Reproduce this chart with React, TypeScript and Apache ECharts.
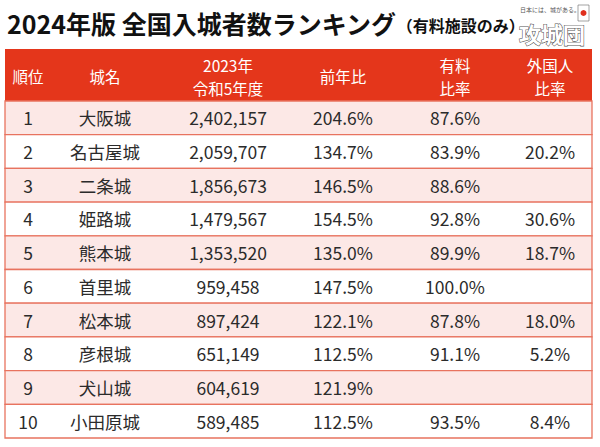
import React, { useEffect, useRef } from "react";
import * as echarts from "echarts";

const ranks = [1, 2, 3, 4, 5, 6, 7, 8, 9, 10];
const castles = ["大阪城", "名古屋城", "二条城", "姫路城", "熊本城", "首里城", "松本城", "彦根城", "犬山城", "小田原城"];
const visitors = [2402157, 2059707, 1856673, 1479567, 1353520, 959458, 897424, 651149, 604619, 589485];
const yoy = [204.6, 134.7, 146.5, 154.5, 135.0, 147.5, 122.1, 112.5, 121.9, 112.5];
const paidRatio: (number | null)[] = [87.6, 83.9, 88.6, 92.8, 89.9, 100.0, 87.8, 91.1, null, 93.5];
const foreignRatio: (number | null)[] = [null, 20.2, null, 30.6, 18.7, null, 18.0, 5.2, null, 8.4];
const headers: string[][] = [["順位"], ["城名"], ["2023年", "令和5年度"], ["前年比"], ["有料", "比率"], ["外国人", "比率"]];

const FONT = "'Noto Sans CJK JP', 'Noto Sans', sans-serif";
const HEADER_RED = "#e4361b";
const PINK = "#fce8e6";
const LINE = "#e8735f";
const TEXT = "#2b2b2b";
const COLS = [28, 105, 228, 343, 455, 550];
const TABLE_L = 5;
const TABLE_R = 592;

const fmtPct = (v: number | null) => (v == null ? "" : v.toFixed(1) + "%");
const fmtNum = (v: number) => v.toLocaleString("en-US");

export default function App() {
  const ref = useRef<HTMLDivElement>(null);
  useEffect(() => {
    if (!ref.current) return;
    const chart = echarts.init(ref.current, null, { renderer: "svg" });
    const headerTexts: any[] = [];
    headers.forEach((lines, i) => {
      const ys = lines.length === 1 ? [76] : [64.5, 87.5];
      lines.forEach((t, j) => {
        headerTexts.push({
          type: "text",
          x: COLS[i],
          y: ys[j],
          style: {
            text: t,
            fill: "#ffffff",
            font: `15.5px ${FONT}`,
            align: "center",
            verticalAlign: "middle",
          },
        });
      });
    });
    chart.setOption({
      animation: false,
      backgroundColor: "#ffffff",
      grid: { left: 0, right: 0, top: 101, bottom: 9 },
      xAxis: { type: "value", min: 0, max: 600, show: false },
      yAxis: { type: "category", data: castles, inverse: true, show: false },
      graphic: [
        {
          type: "text",
          x: 7,
          y: 23,
          style: {
            text: "{a|2024年版 全国入城者数ランキング}{b|（有料施設のみ）}",
            verticalAlign: "middle",
            rich: {
              a: { font: `bold 25px ${FONT}`, fill: "#111111" },
              b: { font: `bold 16px ${FONT}`, fill: "#111111", padding: [4, 0, 0, 0] },
            },
          },
        },
        {
          type: "text",
          x: 520,
          y: 6,
          style: { text: "日本には、城がある。", font: `6px ${FONT}`, fill: "#555" },
        },
        { type: "rect", shape: { x: 578, y: 5, width: 11, height: 16 }, style: { fill: "#fff", stroke: "#666", lineWidth: 0.6 } },
        { type: "circle", shape: { cx: 583.5, cy: 13, r: 3 }, style: { fill: "#e0301e" } },
        {
          type: "text",
          x: 552,
          y: 33,
          style: {
            text: "攻城団",
            font: `bold 22px ${FONT}`,
            fill: "#fff",
            stroke: "#555",
            lineWidth: 1.1,
            align: "center",
            verticalAlign: "middle",
          },
        },
        {
          type: "rect",
          shape: { x: TABLE_L, y: 49, width: TABLE_R - TABLE_L, height: 52 },
          style: { fill: HEADER_RED },
        },
        ...headerTexts,
      ],
      series: [
        {
          type: "custom",
          data: ranks.map((_, i) => [0, i]),
          encode: { x: 0, y: 1 },
          renderItem: (params: any, api: any) => {
            const i = api.value(1);
            const c = api.coord([0, i]);
            const h = api.size([0, 1])[1];
            const top = c[1] - h / 2;
            const cy = c[1];
            const cells = [
              String(ranks[i]),
              castles[i],
              fmtNum(visitors[i]),
              fmtPct(yoy[i]),
              fmtPct(paidRatio[i]),
              fmtPct(foreignRatio[i]),
            ];
            const children: any[] = [
              {
                type: "rect",
                shape: { x: TABLE_L, y: top, width: TABLE_R - TABLE_L, height: h },
                style: { fill: i % 2 === 0 ? PINK : "#ffffff", stroke: LINE, lineWidth: 1.3 },
              },
            ];
            cells.forEach((t, k) => {
              if (!t) return;
              children.push({
                type: "text",
                x: COLS[k],
                y: cy,
                style: {
                  text: t,
                  fill: TEXT,
                  font: `17.5px ${FONT}`,
                  align: "center",
                  verticalAlign: "middle",
                },
              });
            });
            return { type: "group", children };
          },
        },
      ],
    });
    return () => chart.dispose();
  }, []);
  return <div ref={ref} style={{ width: 600, height: 447, position: "fixed", left: 0, top: 0 }} />;
}
